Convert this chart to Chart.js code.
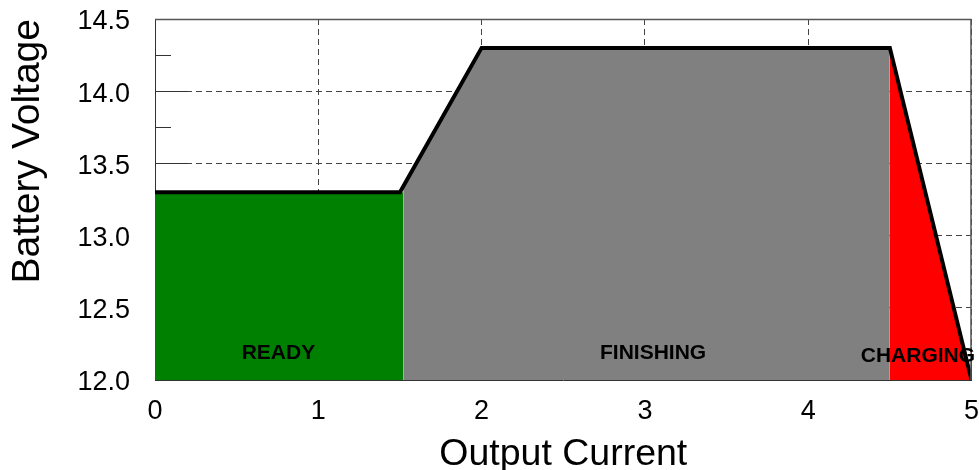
<!DOCTYPE html>
<html><head><meta charset="utf-8">
<script src="https://cdn.jsdelivr.net/npm/chart.js@4/dist/chart.umd.min.js"></script>
<style>html,body{margin:0;padding:0;background:#fff;}#wrap{width:979px;height:470px;position:relative;}</style>
</head><body><div id="wrap"><canvas id="c"></canvas></div>
<script>
// ---- data ----
const outlineX = [0, 1.5, 2.0, 4.5, 5.0];
const outlineY = [13.3, 13.3, 14.3, 14.3, 12.0];
const readyX = [0, 1.52];
const readyY = [13.3, 13.3];
const finishingX = [1.52, 2.0, 4.5];
const finishingY = [13.33, 14.3, 14.3];
const chargingX = [4.5, 5.0];
const chargingY = [14.3, 12.0];
const zoneLabels = ['READY', 'FINISHING', 'CHARGING'];
const zoneLabelX = [0.756, 3.05, 4.672];
const zoneLabelY = [12.184, 12.188, 12.163];
const xMin = 0, xMax = 5, xStep = 1;
const yMin = 12.0, yMax = 14.5, yStep = 0.5, yMinorStep = 0.25;
const xTitle = 'Output Current';
const yTitle = 'Battery Voltage';

const pts = (xs, ys) => xs.map((x, i) => ({x: x, y: ys[i]}));
const FONT = '"Liberation Sans", Arial, Helvetica, sans-serif';

const decor = {
  id: 'decor',
  beforeDatasetsDraw(chart) {
    const {ctx, chartArea: a, scales: {x, y}} = chart;
    ctx.save();
    ctx.strokeStyle = '#333';
    ctx.lineWidth = 1;
    ctx.beginPath();
    for (let v = yMin; v <= yMax + 1e-9; v += yMinorStep) {
      const py = Math.round(y.getPixelForValue(v)) + 0.5;
      const major = Math.abs(v / yStep - Math.round(v / yStep)) < 1e-6;
      ctx.moveTo(a.left, py); ctx.lineTo(a.left + (major ? 33 : 16), py);
    }
    for (let v = xMin; v <= xMax + 1e-9; v += 0.25) {
      const px = Math.round(x.getPixelForValue(v)) + 0.5;
      const major = Math.abs(v - Math.round(v)) < 1e-6;
      ctx.moveTo(px, a.bottom); ctx.lineTo(px, a.bottom - (major ? 33 : 16));
    }
    ctx.stroke();
    ctx.restore();
  },
  afterDatasetsDraw(chart) {
    const {ctx, chartArea: a, scales: {x, y}} = chart;
    ctx.save();
    ctx.strokeStyle = '#555';
    ctx.lineWidth = 1.5;
    ctx.beginPath();
    ctx.moveTo(a.left, a.top + 0.5); ctx.lineTo(a.right, a.top + 0.5);
    ctx.moveTo(a.right - 0.5, a.top); ctx.lineTo(a.right - 0.5, a.bottom);
    ctx.stroke();
    ctx.fillStyle = '#000';
    ctx.font = 'bold 21px ' + FONT;
    ctx.textAlign = 'center';
    ctx.textBaseline = 'middle';
    zoneLabels.forEach((t, i) => {
      ctx.fillText(t, x.getPixelForValue(zoneLabelX[i]), y.getPixelForValue(zoneLabelY[i]));
    });
    ctx.restore();
  }
};

new Chart(document.getElementById('c'), {
  type: 'line',
  data: {
    datasets: [
      {data: pts(outlineX, outlineY), borderColor: '#000', borderWidth: 4, fill: false,
       pointRadius: 0, tension: 0, borderCapStyle: 'round', borderJoinStyle: 'miter', order: 0},
      {data: pts(readyX, readyY), borderColor: 'rgba(0,0,0,0)', borderWidth: 0,
       backgroundColor: '#008000', fill: 'start', pointRadius: 0, order: 2},
      {data: pts(finishingX, finishingY), borderColor: 'rgba(0,0,0,0)', borderWidth: 0,
       backgroundColor: '#808080', fill: 'start', pointRadius: 0, order: 3},
      {data: pts(chargingX, chargingY), borderColor: 'rgba(0,0,0,0)', borderWidth: 0,
       backgroundColor: '#ff0000', fill: 'start', pointRadius: 0, order: 1}
    ]
  },
  options: {
    responsive: true,
    maintainAspectRatio: false,
    animation: false,
    layout: {padding: {top: 19, left: 0, right: 0, bottom: 0}},
    plugins: {legend: {display: false}, tooltip: {enabled: false}},
    scales: {
      x: {
        type: 'linear', min: xMin, max: xMax,
        afterFit(s) { s.height = 90; },
        ticks: {stepSize: xStep, padding: 0, font: {family: FONT, size: 27}, color: '#000', maxRotation: 0,
                callback: v => String(v)},
        grid: {color: '#444', lineWidth: 1, drawTicks: true, tickLength: 15, tickColor: 'rgba(0,0,0,0)'},
        border: {display: true, color: '#333', width: 1, dash: [6, 4]},
        title: {display: true, text: xTitle, color: '#000', font: {family: FONT, size: 37.5, lineHeight: 1.0},
                padding: {top: 0, bottom: -3}}
      },
      y: {
        type: 'linear', min: yMin, max: yMax,
        afterFit(s) { s.width = 155; },
        ticks: {stepSize: yStep, padding: 0, labelOffset: 3, font: {family: FONT, size: 27}, color: '#000',
                callback: v => Number(v).toFixed(1)},
        grid: {color: '#444', lineWidth: 1, drawTicks: true, tickLength: 25, tickColor: 'rgba(0,0,0,0)'},
        border: {display: true, color: '#333', width: 1, dash: [6, 4]},
        title: {display: true, text: yTitle, align: 'end', color: '#000', font: {family: FONT, size: 39, lineHeight: 1.0},
                padding: {top: 9, bottom: 0}}
      }
    }
  },
  plugins: [decor]
});
</script>
</body></html>
